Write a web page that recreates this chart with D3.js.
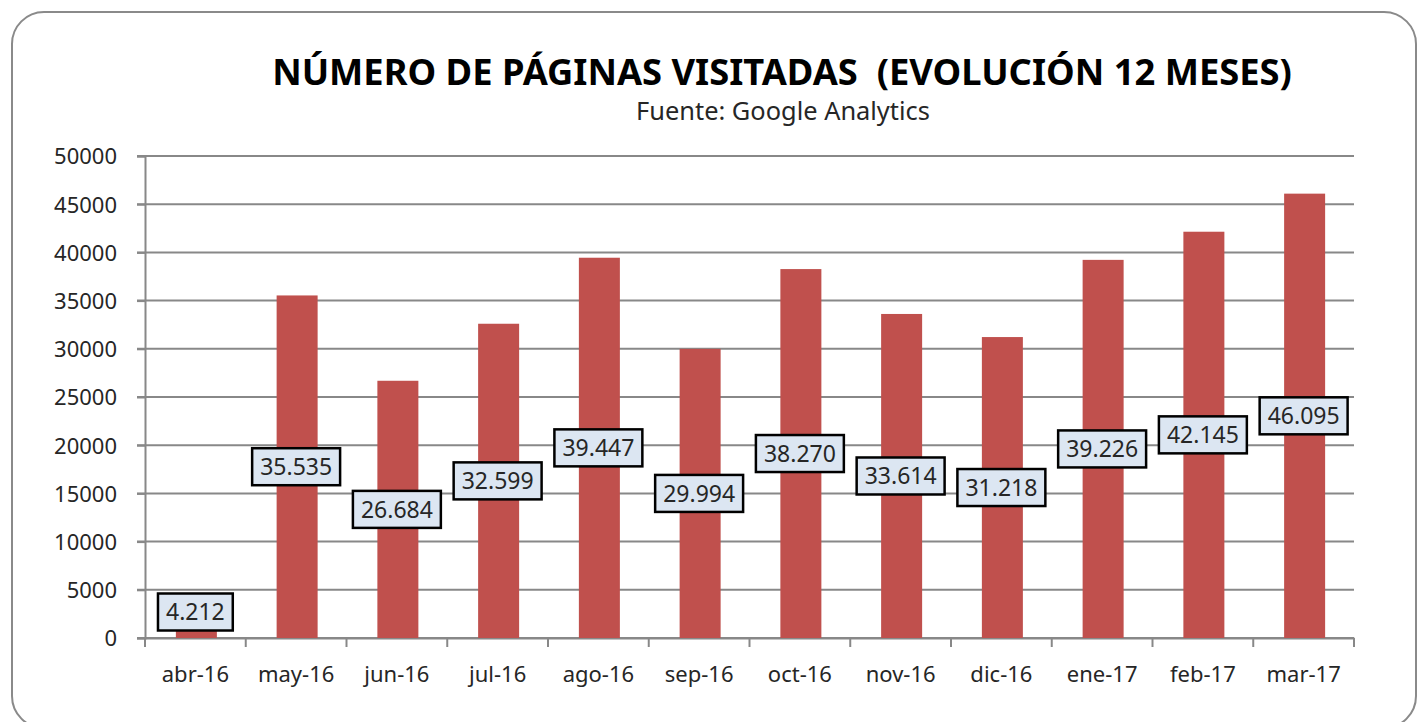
<!DOCTYPE html>
<html>
<head>
<meta charset="utf-8">
<script src="https://cdn.jsdelivr.net/npm/d3@7"></script>
<style>
body{margin:0;background:#fff;}
text{font-family:"Noto Sans","Open Sans",sans-serif;fill:#262626;}
</style>
</head>
<body>
<div id="chart"></div>
<script>
// data
var meses=['abr-16','may-16','jun-16','jul-16','ago-16','sep-16','oct-16','nov-16','dic-16','ene-17','feb-17','mar-17'];
var paginas=[4212,35535,26684,32599,39447,29994,38270,33614,31218,39226,42145,46095];
var ticksY=[0,5000,10000,15000,20000,25000,30000,35000,40000,45000,50000];

var W=1418,H=722;
var svg=d3.select('#chart').append('svg').attr('width',W).attr('height',H);

// marco
svg.append('rect').attr('x',12).attr('y',12).attr('width',1404).attr('height',716).attr('rx',32).attr('ry',32)
  .attr('fill','#fff').attr('stroke','#8a8a8a').attr('stroke-width',2);

var x=d3.scaleBand().domain(meses).range([145,1354]).paddingInner(0).paddingOuter(0);
var y=d3.scaleLinear().domain([0,50000]).range([638,156]);

// rejilla
svg.append('g').selectAll('line').data(ticksY).enter().append('line')
  .attr('x1',137).attr('x2',1354).attr('y1',function(d){return y(d);}).attr('y2',function(d){return y(d);})
  .attr('stroke','#888').attr('stroke-width',2);

// eje Y
var ay=svg.append('g').attr('transform','translate(145,0)')
  .call(d3.axisLeft(y).tickValues(ticksY).tickFormat(d3.format('d')).tickSize(8).tickPadding(20));
ay.select('.domain').attr('stroke','#888').attr('stroke-width',2);
ay.selectAll('.tick line').attr('stroke','#888').attr('stroke-width',2);
ay.selectAll('text').style('font-size','22px').attr('fill','#262626').attr('dy','0.36em');

// eje X
var ax=svg.append('g').attr('transform','translate(0,638)')
  .call(d3.axisBottom(x).tickSize(0).tickPadding(28));
ax.select('.domain').attr('stroke','#888').attr('stroke-width',2);
ax.selectAll('text').style('font-size','22px').attr('fill','#262626');
svg.append('g').selectAll('line').data(d3.range(meses.length+1)).enter().append('line')
  .attr('x1',function(i){return 145+i*x.step();}).attr('x2',function(i){return 145+i*x.step();})
  .attr('y1',638).attr('y2',647).attr('stroke','#888').attr('stroke-width',2);

// barras
var bw=41;
svg.append('g').selectAll('rect').data(paginas).enter().append('rect')
  .attr('x',function(d,i){return x(meses[i])+x.bandwidth()/2-bw/2+1;})
  .attr('y',function(d){return y(d);})
  .attr('width',bw).attr('height',function(d){return y(0)-y(d);})
  .attr('fill','#c0504d');

// etiquetas
var fmt=function(v){return d3.format(',')(v).replace(/,/g,'.');};
var lab=svg.append('g').selectAll('g').data(paginas).enter().append('g')
  .attr('transform',function(d,i){
    var cy=Math.min((y(d)+y(0))/2,612);
    return 'translate('+(x(meses[i])+x.bandwidth()/2)+','+cy+')';});
var box=lab.append('rect').attr('y',-18.5).attr('height',37)
  .attr('fill','#dce6f2').attr('stroke','#000').attr('stroke-width',2.5);
var lt=lab.append('text').attr('text-anchor','middle').attr('dy','0.36em').style('font-size','23px')
  .text(fmt);
lt.each(function(){
  var w=this.getComputedTextLength()+16;
  d3.select(this.previousSibling).attr('x',-w/2).attr('width',w);
});

// titulos
var t=svg.append('text').attr('x',782).attr('y',85).attr('text-anchor','middle')
  .style('font-size','36px').style('font-weight','bold').style('fill','#000')
  .attr('xml:space','preserve').text('NÚMERO DE PÁGINAS VISITADAS  (EVOLUCIÓN 12 MESES)');
var tw=t.node().getComputedTextLength();
t.style('font-size',(36*1020/tw)+'px');
var s=svg.append('text').attr('x',783).attr('y',120).attr('text-anchor','middle')
  .style('font-size','22px').text('Fuente: Google Analytics');
var sw=s.node().getComputedTextLength();
s.style('font-size',(22*294/sw)+'px');
</script>
</body>
</html>
